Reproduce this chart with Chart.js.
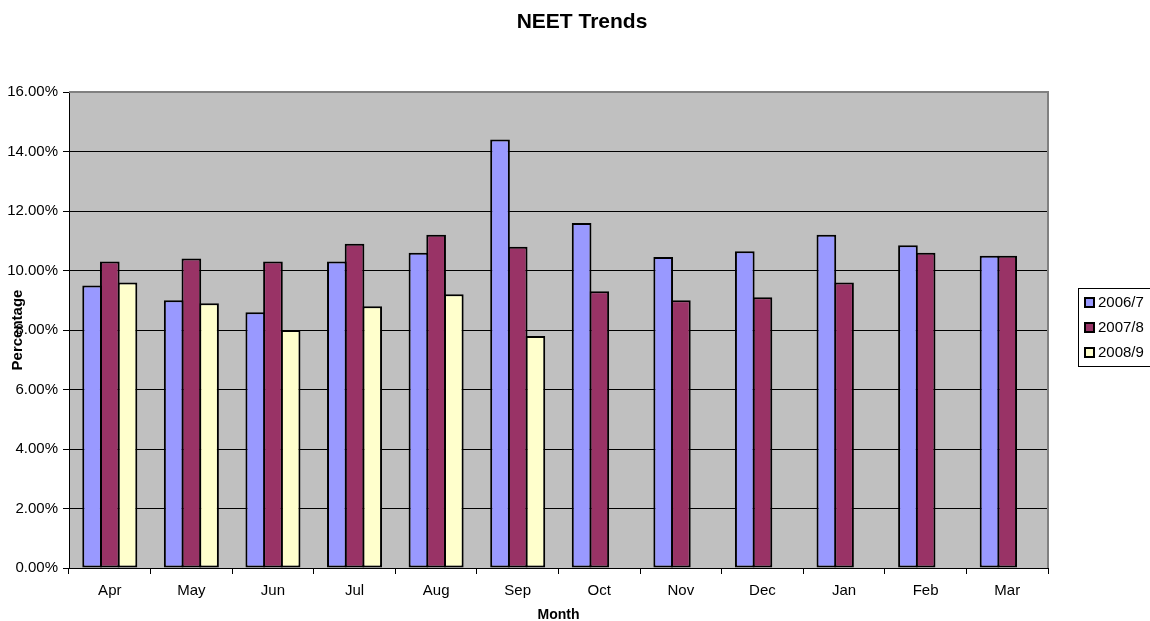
<!DOCTYPE html>
<html>
<head>
<meta charset="utf-8">
<style>
  html, body { margin: 0; padding: 0; background: #ffffff; }
  #wrap { width: 1150px; height: 621px; position: relative; }
</style>
<script src="https://cdn.jsdelivr.net/npm/chart.js@4.4.1/dist/chart.umd.min.js"></script>
</head>
<body>
<div id="wrap"><canvas id="c"></canvas></div>
<script>
const months = ['Apr','May','Jun','Jul','Aug','Sep','Oct','Nov','Dec','Jan','Feb','Mar'];
const series2006 = [9.5, 9.0, 8.6, 10.3, 10.6, 14.4, 11.6, 10.45, 10.65, 11.2, 10.85, 10.5];
const series2007 = [10.3, 10.4, 10.3, 10.9, 11.2, 10.8, 9.3, 9.0, 9.1, 9.6, 10.6, 10.5];
const series2008 = [9.6, 8.9, 8.0, 8.8, 9.2, 7.8, null, null, null, null, null, null];
const seriesLabels = ['2006/7', '2007/8', '2008/9'];
const seriesColors = ['#9999FF', '#993366', '#FFFFCC'];
const yTicks = [0, 2, 4, 6, 8, 10, 12, 14, 16];

const FONT = "'Liberation Sans', Arial, sans-serif";

const plotBg = {
  id: 'plotBg',
  afterLayout(chart) {
    // centre the chart title over the whole picture, as in the original
    if (chart.titleBlock) {
      chart.titleBlock.left = 0;
      chart.titleBlock.right = 1164;
    }
  },
  beforeDraw(chart) {
    const {ctx, chartArea: a} = chart;
    ctx.save();
    ctx.fillStyle = '#C0C0C0';
    ctx.fillRect(a.left, a.top, a.right - a.left, a.bottom - a.top);
    ctx.restore();
  },
  afterDraw(chart) {
    const {ctx, chartArea: a} = chart;
    ctx.save();
    ctx.strokeStyle = '#808080';
    ctx.lineWidth = 2;
    ctx.beginPath();
    ctx.moveTo(a.left, a.top);
    ctx.lineTo(a.right, a.top);
    ctx.lineTo(a.right, a.bottom);
    ctx.stroke();
    ctx.restore();
  }
};

const boxLegend = {
  id: 'boxLegend',
  afterDraw(chart) {
    const {ctx} = chart;
    const ds = chart.data.datasets;
    const left = 1078.5, top = 288.5, w = 80, rowH = 25;
    const h = rowH * ds.length + 3;
    ctx.save();
    ctx.strokeStyle = '#000';
    ctx.lineWidth = 1;
    ctx.fillStyle = '#fff';
    ctx.fillRect(left, top, w, h);
    ctx.strokeRect(left, top, w, h);
    ctx.font = '15px ' + FONT;
    ctx.textBaseline = 'middle';
    ctx.textAlign = 'left';
    ds.forEach((d, i) => {
      const cy = top + 14 + i * rowH;
      ctx.fillStyle = d.backgroundColor;
      ctx.fillRect(1085, cy - 4.5, 9, 9);
      ctx.strokeStyle = '#000';
      ctx.lineWidth = 2;
      ctx.strokeRect(1085, cy - 4.5, 9, 9);
      ctx.fillStyle = '#000';
      ctx.fillText(d.label, 1098, cy + 0.5);
    });
    ctx.restore();
  }
};

const datasets = [series2006, series2007, series2008].map((vals, i) => ({
  label: seriesLabels[i],
  data: vals,
  backgroundColor: seriesColors[i],
  borderColor: '#000000',
  borderWidth: 2,
  borderSkipped: false,
  categoryPercentage: 0.65,
  barPercentage: 1.113
}));

new Chart(document.getElementById('c'), {
  type: 'bar',
  data: { labels: months, datasets },
  plugins: [plotBg, boxLegend],
  options: {
    responsive: true,
    maintainAspectRatio: false,
    animation: false,
    layout: { padding: { left: 0, right: 102, top: 0, bottom: 0 } },
    plugins: {
      legend: { display: false },
      tooltip: { enabled: false },
      title: {
        display: true,
        text: 'NEET Trends',
        color: '#000',
        font: { family: FONT, size: 21, weight: 'bold', lineHeight: 1.2 },
        padding: { top: 9.5, bottom: 57.3 }
      }
    },
    scales: {
      x: {
        offset: true,
        grid: { display: true, offset: true, drawOnChartArea: false, drawTicks: true, tickLength: 6, color: '#000', lineWidth: 1 },
        border: { display: true, color: '#000', width: 1 },
        ticks: { color: '#000', font: { family: FONT, size: 15 }, padding: 8, maxRotation: 0, autoSkip: false },
        title: {
          display: true, text: 'Month', color: '#000',
          font: { family: FONT, size: 14, weight: 'bold', lineHeight: 0.85 },
          padding: { top: 0, bottom: 0 }
        },
        afterFit(scale) { scale.height = 53; }
      },
      y: {
        min: 0, max: 16,
        afterBuildTicks(scale) { scale.ticks = yTicks.map(v => ({ value: v })); },
        grid: { color: '#000', lineWidth: 1, drawTicks: true, tickLength: 6 },
        border: { display: true, color: '#000', width: 1 },
        ticks: {
          color: '#000', font: { family: FONT, size: 15 }, padding: 5,
          callback: v => Number(v).toFixed(2) + '%'
        },
        title: {
          display: true, text: 'Percentage', color: '#000',
          font: { family: FONT, size: 15, weight: 'bold', lineHeight: 1.2 },
          padding: { top: 8.5, bottom: 0 }
        },
        afterFit(scale) { scale.width = 69; }
      }
    }
  }
});
</script>
</body>
</html>
